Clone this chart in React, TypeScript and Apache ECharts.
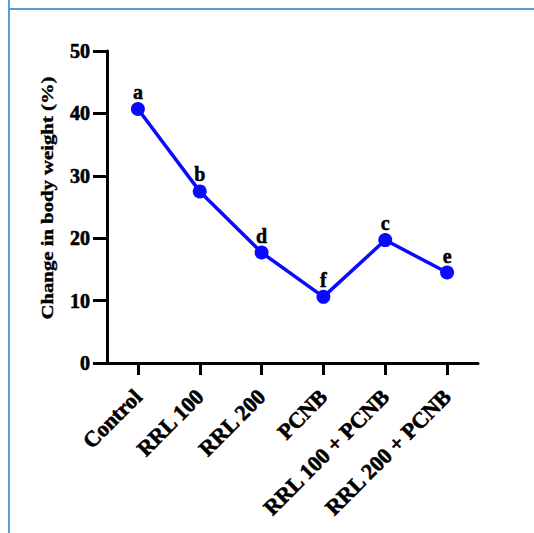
import React, { useEffect, useRef } from "react";
import * as echarts from "echarts";

const categories = ["Control", "RRL 100", "RRL 200", "PCNB", "RRL 100 + PCNB", "RRL 200 + PCNB"];
const values = [40.7, 27.5, 17.7, 10.6, 19.7, 14.5];
const letters = ["a", "b", "d", "f", "c", "e"];
const yAxisTitle = "Change in body weight (%)";
const yMin = 0;
const yMax = 50;
const yStep = 10;

const FONT = "'Liberation Serif', 'Times New Roman', serif";

export default function App() {
  const ref = useRef<HTMLDivElement>(null);
  useEffect(() => {
    document.body.style.margin = "0";
    const chart = echarts.init(ref.current!, null, { renderer: "svg" });
    chart.setOption({
      animation: false,
      backgroundColor: "#ffffff",
      grid: { left: 107, right: 56, top: 51, bottom: 170, containLabel: false },
      xAxis: {
        type: "category",
        data: categories,
        boundaryGap: true,
        axisLine: { show: true, lineStyle: { color: "#000", width: 3 } },
        axisTick: { show: true, alignWithLabel: true, length: 12, lineStyle: { color: "#000", width: 3 } },
        axisLabel: {
          rotate: 45,
          interval: 0,
          margin: 30,
          color: "#000",
          fontFamily: FONT,
          fontWeight: "bold",
          fontSize: 22,
          textBorderColor: "#000",
          textBorderWidth: 0.6,
        },
        splitLine: { show: false },
      },
      yAxis: {
        type: "value",
        min: yMin,
        max: yMax,
        interval: yStep,
        axisLine: { show: true, lineStyle: { color: "#000", width: 3 } },
        axisTick: { show: true, length: 14, lineStyle: { color: "#000", width: 3 } },
        axisLabel: {
          margin: 17,
          color: "#000",
          fontFamily: FONT,
          fontWeight: "bold",
          fontSize: 20,
          textBorderColor: "#000",
          textBorderWidth: 0.6,
        },
        splitLine: { show: false },
      },
      graphic: [
        {
          type: "line",
          shape: { x1: 9, y1: 0, x2: 9, y2: 533 },
          style: { stroke: "#5b9bd5", lineWidth: 2 },
        },
        {
          type: "line",
          shape: { x1: 8, y1: 9, x2: 534, y2: 9 },
          style: { stroke: "#5b9bd5", lineWidth: 2 },
        },
        {
          type: "text",
          x: 47,
          y: 198,
          rotation: Math.PI / 2,
          scaleX: 1.22,
          scaleY: 1,
          style: {
            text: yAxisTitle,
            fill: "#000",
            font: `bold 17px ${FONT}`,
            textAlign: "center",
            textVerticalAlign: "middle",
            stroke: "#000",
            lineWidth: 0.4,
          },
        },
      ],
      series: [
        {
          type: "line",
          data: values,
          symbol: "circle",
          symbolSize: 14,
          itemStyle: { color: "#0a0aff" },
          lineStyle: { color: "#0a0aff", width: 3.5 },
          label: {
            show: true,
            position: "top",
            distance: 0,
            formatter: (p: any) => letters[p.dataIndex],
            color: "#000",
            fontFamily: FONT,
            fontWeight: "bold",
            fontSize: 20,
            textBorderColor: "#000",
            textBorderWidth: 0.5,
          },
        },
      ],
    });
    return () => chart.dispose();
  }, []);
  return <div ref={ref} style={{ width: 534, height: 533 }} />;
}
